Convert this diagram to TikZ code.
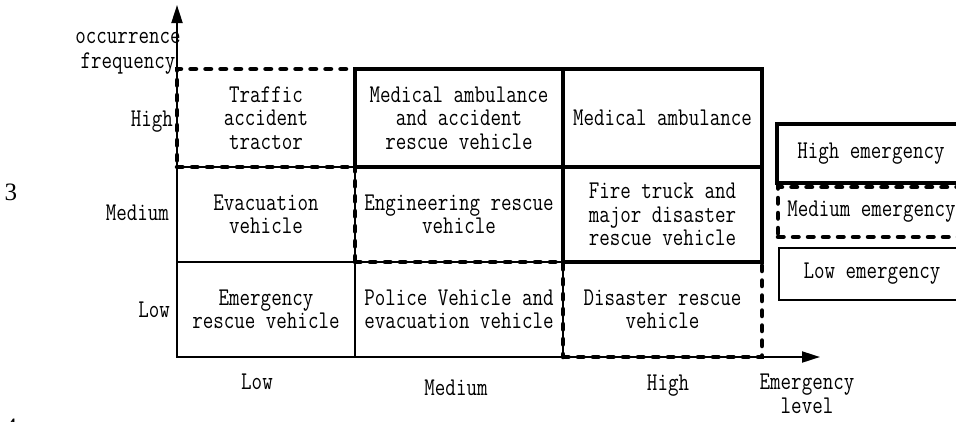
\documentclass[tikz,border=0pt]{standalone}
\usepackage{fontspec}
\setmainfont{Latin Modern Mono}[FakeStretch=0.80]
\newfontfamily\numfont{Liberation Serif}
\usetikzlibrary{arrows.meta}
\tikzset{
  every node/.style={font=\fontsize{25.5pt}{23.5pt}\selectfont, inner sep=0pt, outer sep=0pt, align=center},
  basecell/.style={rectangle, inner sep=0pt, align=center},
  thincell/.style={basecell, draw, line width=1.4pt},
  dashcell/.style={basecell, draw, line width=4.5pt, line cap=round, dash pattern=on 5.5pt off 9.5pt},
  thickcell/.style={basecell, draw, line width=4.2pt},
  axisline/.style={line width=2pt, -{Triangle[length=18pt,width=11pt]}},
  lbl/.style={anchor=base},
  lbleast/.style={anchor=base east},
}
\begin{document}
\begin{tikzpicture}[x=1pt,y=-1pt]
\useasboundingbox (0,0) rectangle (956,421);
% thin cells
\node[thincell, minimum width=178pt, minimum height=95pt] (evac) at (266,214.5) {Evacuation\\vehicle};
\node[thincell, minimum width=178pt, minimum height=95pt] (emerg) at (266,309.5) {Emergency\\rescue vehicle};
\node[thincell, minimum width=208pt, minimum height=95pt] (police) at (459,309.5) {Police Vehicle and\\evacuation vehicle};
% axes
\coordinate (origin) at (177,357);
\coordinate (ytip) at (177,5);
\coordinate (xtip) at (820,357);
\draw[axisline] (origin) -- (ytip);
\draw[axisline] (origin) -- (xtip);
% dashed cells
\node[dashcell, minimum width=178pt, minimum height=98pt] (traffic) at (266,118) {Traffic\\accident\\tractor};
\node[dashcell, minimum width=208pt, minimum height=95pt] (engin) at (459,214.5) {Engineering rescue\\vehicle};
\node[dashcell, minimum width=199pt, minimum height=95pt] (disaster) at (662.5,309.5) {Disaster rescue\\vehicle};
% thick cells
\node[thickcell, minimum width=208pt, minimum height=98pt] (medacc) at (459,118) {Medical ambulance\\and accident\\rescue vehicle};
\node[thickcell, minimum width=199pt, minimum height=98pt] (medamb) at (662.5,118) {Medical ambulance};
\node[thickcell, minimum width=199pt, minimum height=95pt] (fire) at (662.5,214.5) {Fire truck and\\major disaster\\rescue vehicle};
% legend
\node[thickcell, minimum width=188pt, minimum height=59pt] (leghigh) at (871,153.5) {High emergency};
\node[dashcell, minimum width=187pt, minimum height=50pt] (legmed) at (871.5,212) {Medium emergency};
\node[thincell, minimum width=186pt, minimum height=52pt] (leglow) at (872,274) {Low emergency};
% axis labels
\node[lbl] (occ) at (128,43) {occurrence};
\node[lbl] (freq) at (128,68) {frequency};
\node[lbleast] (yhigh) at (173,126) {High};
\node[lbleast] (ymed) at (169,220) {Medium};
\node[lbleast] (ylow) at (170,317) {Low};
\node[lbl] (xlow) at (257,389) {Low};
\node[lbl] (xmed) at (456,395) {Medium};
\node[lbl] (xhigh) at (668,390) {High};
\node[lbl] (elev1) at (807,389) {Emergency};
\node[lbl] (elev2) at (807,413) {level};
% stray line numbers
\node[anchor=base, font=\numfont\fontsize{25pt}{25pt}\selectfont] (n3) at (11,200) {3};
\node[anchor=base, font=\numfont\fontsize{25pt}{25pt}\selectfont] (n4) at (11,435) {4};
\end{tikzpicture}
\end{document}
